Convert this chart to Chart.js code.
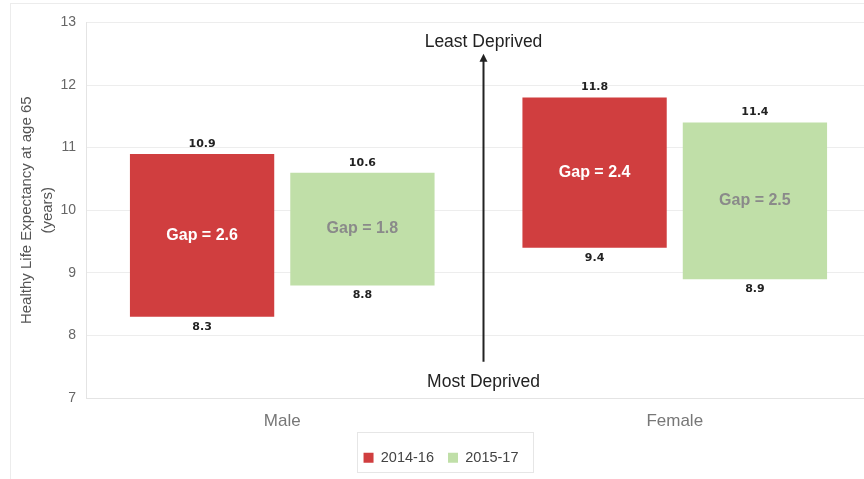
<!DOCTYPE html>
<html>
<head>
<meta charset="utf-8">
<title>Healthy Life Expectancy at 65</title>
<script src="https://cdn.jsdelivr.net/npm/chart.js@4"></script>
<style>
  html, body { margin: 0; padding: 0; background: #fff; overflow: hidden; }
  #wrap { position: absolute; left: 10px; top: 3px; width: 870px; height: 476px;
          border-left: 1px solid #ececec; border-top: 1px solid #ececec; }
</style>
</head>
<body>
<div id="wrap"><canvas id="hleChart" width="870" height="476"></canvas></div>
<script>
// Healthy life expectancy at 65 — range between most and least deprived
const categories = ['Male', 'Female'];
const periods    = ['2014-16', '2015-17'];
const mostDeprived  = { '2014-16': [8.3, 9.4],  '2015-17': [8.8, 8.9] };
const leastDeprived = { '2014-16': [10.9, 11.8], '2015-17': [10.6, 11.4] };
const yTicks = [7, 8, 9, 10, 11, 12, 13];

(function(){
  'use strict';

  const FONT = '"Liberation Sans", Arial, sans-serif';
  const fills = ['#d03e3f', '#c0dfa8'];
  const gapText = ['#ffffff', '#8a8a8a'];

  const datasets = periods.map(function(p, i){
    return {
      label: p,
      data: categories.map((c, j) => [mostDeprived[p][j], leastDeprived[p][j]]),
      backgroundColor: fills[i],
      borderWidth: 0,
      categoryPercentage: 0.817,
      barPercentage: 0.9
    };
  });

  // value labels above / below each bar, gap in the middle
  const barLabels = {
    id: 'barLabels',
    afterDatasetsDraw: function(chart){
      const ctx = chart.ctx;
      ctx.save();
      ctx.textAlign = 'center';
      chart.data.datasets.forEach(function(ds, di){
        chart.getDatasetMeta(di).data.forEach(function(bar, j){
          const lo = ds.data[j][0], hi = ds.data[j][1];
          const yHi = chart.scales.y.getPixelForValue(hi);
          const yLo = chart.scales.y.getPixelForValue(lo);
          ctx.fillStyle = '#222';
          ctx.font = 'bold 11px "DejaVu Sans", Verdana, sans-serif';
          ctx.textBaseline = 'middle';
          ctx.fillText(hi.toFixed(1), bar.x, yHi - 10);
          ctx.fillText(lo.toFixed(1), bar.x, yLo + 10);
          ctx.fillStyle = gapText[di];
          ctx.font = 'bold 16px ' + FONT;
          ctx.fillText('Gap = ' + (hi - lo).toFixed(1), bar.x, (yHi + yLo) / 2);
        });
      });
      ctx.restore();
    }
  };

  // deprivation arrow between the two groups + box round the legend
  const extras = {
    id: 'extras',
    afterDraw: function(chart){
      const ctx = chart.ctx;
      const x = chart.scales.x, y = chart.scales.y;
      const ax = (x.getPixelForValue(0) + x.getPixelForValue(1)) / 2 + 5;
      const yTop = y.getPixelForValue(12.5), yBot = y.getPixelForValue(7.58);
      ctx.save();
      ctx.strokeStyle = '#222'; ctx.fillStyle = '#222'; ctx.lineWidth = 2;
      ctx.beginPath(); ctx.moveTo(ax, yBot); ctx.lineTo(ax, yTop + 6); ctx.stroke();
      ctx.beginPath(); ctx.moveTo(ax, yTop); ctx.lineTo(ax - 4, yTop + 8); ctx.lineTo(ax + 4, yTop + 8); ctx.closePath(); ctx.fill();
      ctx.font = '17.5px ' + FONT; ctx.textAlign = 'center'; ctx.textBaseline = 'middle';
      ctx.fillText('Least Deprived', ax, y.getPixelForValue(12.69));
      ctx.fillText('Most Deprived', ax, y.getPixelForValue(7.26));

      const lg = chart.legend;
      ctx.strokeStyle = '#e6e6e6'; ctx.lineWidth = 1;
      const w = 176, h = 40;
      const cx = (lg.left + lg.right) / 2 + 4;
      ctx.strokeRect(Math.round(cx - w / 2) + 0.5, Math.round(lg.top) - 3.5, w, h);
      ctx.restore();
    }
  };

  new Chart(document.getElementById('hleChart').getContext('2d'), {
    type: 'bar',
    data: { labels: categories, datasets: datasets },
    options: {
      responsive: false,
      animation: false,
      layout: { padding: { top: 6, right: 10, bottom: 5, left: 0 } },
      plugins: {
        tooltip: { enabled: false },
        legend: {
          position: 'bottom',
          labels: {
            boxWidth: 10, boxHeight: 10, padding: 14,
            color: '#444', font: { family: FONT, size: 14.5 }
          }
        }
      },
      scales: {
        x: {
          grid: { display: false },
          border: { color: '#e4e4e4' },
          ticks: { color: '#777', font: { family: FONT, size: 17 }, padding: 5 }
        },
        y: {
          min: yTicks[0], max: yTicks[yTicks.length - 1],
          afterBuildTicks: function(axis){ axis.ticks = yTicks.map(v => ({ value: v })); },
          afterFit: function(axis){ axis.width = 75; },
          grid: { color: '#ededed', drawTicks: false },
          border: { color: '#e4e4e4' },
          ticks: { color: '#666', font: { family: FONT, size: 14 }, padding: 10 },
          title: {
            display: true,
            text: ['Healthy Life Expectancy at age 65', '(years)'],
            color: '#555', font: { family: FONT, size: 15, lineHeight: 1.35 }, padding: { top: 6, bottom: 0 }
          }
        }
      }
    },
    plugins: [barLabels, extras]
  });
})();
</script>
</body>
</html>
